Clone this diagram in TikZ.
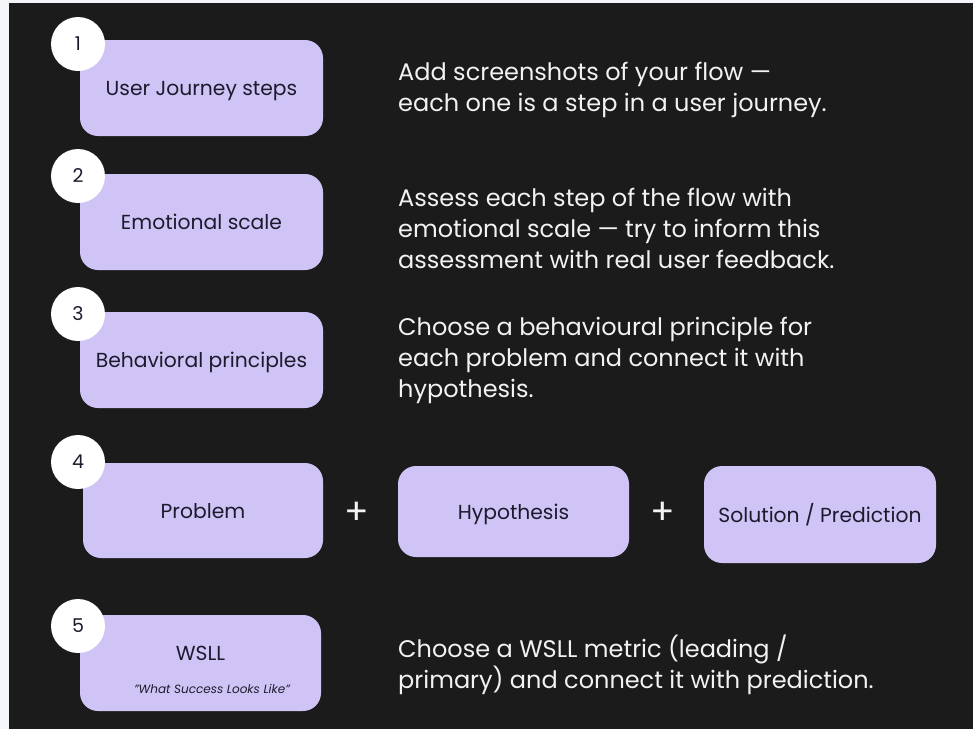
\documentclass[tikz,border=0pt]{standalone}
\usepackage{fontspec}
\setmainfont{Poppins}
\usetikzlibrary{positioning}
\definecolor{pagebg}{HTML}{F4F5F8}
\definecolor{darkbg}{HTML}{1B1B1B}
\definecolor{lavender}{HTML}{CFC4F5}
\definecolor{inkdark}{HTML}{1E1A2E}
\definecolor{softwhite}{HTML}{F2F2F2}

\begin{document}
\begin{tikzpicture}[x=1pt, y=-1pt]
    % Define styles
    \tikzstyle{stepbox} = [rectangle, rounded corners=18pt, fill=lavender, text=inkdark, minimum width=243pt, minimum height=96pt, align=center, text height=15pt, text depth=0pt, font=\fontsize{20.3}{24}\selectfont]
    \tikzstyle{badge} = [circle, fill=white, text=inkdark, minimum size=54pt, inner sep=0pt, font=\fontsize{19}{20}\selectfont]
    \tikzstyle{note} = [anchor=west, text=softwhite, align=left, inner sep=0pt, font=\fontsize{24}{31}\selectfont]
    \tikzstyle{plus} = [text=softwhite, font=\fontsize{36}{36}\selectfont]

    % Background
    \useasboundingbox (0,0) rectangle (973,729);
    \fill[pagebg] (0,0) rectangle (973,729);
    \fill[darkbg] (9,3) rectangle (973,729);

    % Step 1
    \node[stepbox] (journey) at (201.5, 88) {User Journey steps};
    \node[badge] (n1) at (78, 44) {1};
    \node[note] (t1) at (398, 90) {Add screenshots of your flow ---\\each one is a step in a user journey.};

    % Step 2
    \node[stepbox] (scale) at (201.5, 222) {Emotional scale};
    \node[badge] (n2) at (78, 176) {2};
    \node[note] (t2) at (398, 228) {Assess each step of the flow with\\emotional scale --- try to inform this\\assessment with real user feedback.};

    % Step 3
    \node[stepbox] (principles) at (201.5, 360) {Behavioral principles};
    \node[badge] (n3) at (78, 314) {3};
    \node[note] (t3) at (398, 360) {Choose a behavioural principle for\\each problem and connect it with\\hypothesis.};

    % Step 4
    \node[stepbox, minimum width=240pt, minimum height=95pt] (problem) at (203, 510.5) {Problem};
    \node[badge] (n4) at (78, 462) {4};
    \node[stepbox, minimum width=231pt, minimum height=91pt] (hypothesis) at (513.5, 511.5) {Hypothesis};
    \node[stepbox, minimum width=232pt, minimum height=97pt] (solution) at (820, 514.5) {Solution / Prediction};
    \node[plus] (plusA) at (357, 513) {+};
    \node[plus] (plusB) at (663, 513) {+};

    % Step 5
    \node[stepbox, minimum width=241pt] (wsll) at (200.5, 663) {};
    \node[text=inkdark, font=\fontsize{20.3}{24}\selectfont] (wsllname) at (200.5, 653) {WSLL};
    \node[text=inkdark, font=\fontsize{12}{14}\selectfont\itshape] (wsllsub) at (212, 689) {"What Success Looks Like"};
    \node[badge] (n5) at (78, 626) {5};
    \node[note] (t5) at (398, 665) {Choose a WSLL metric (leading /\\primary) and connect it with prediction.};
\end{tikzpicture}
\end{document}
